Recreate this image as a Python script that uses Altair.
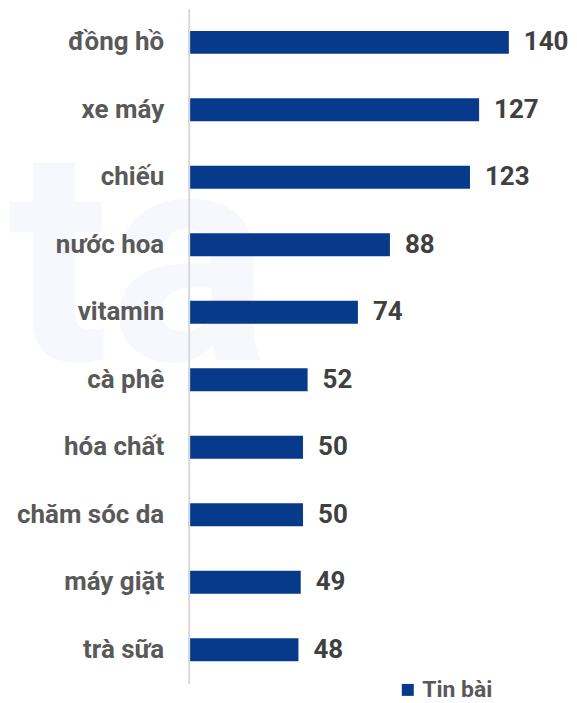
import altair as alt
import pandas as pd

categories = ["đồng hồ", "xe máy", "chiếu", "nước hoa", "vitamin", "cà phê",
              "hóa chất", "chăm sóc da", "máy giặt", "trà sữa"]
values = [140, 127, 123, 88, 74, 52, 50, 50, 49, 48]
series = "Tin bài"

df = pd.DataFrame({"category": categories, "value": values, "series": [series] * len(categories)})

W, H = 370, 676
FONT = "Roboto"
BAR = "#073A8A"

base = alt.Chart(df).encode(
    y=alt.Y("category:N", sort=categories, title=None,
            scale=alt.Scale(paddingInner=0.66, paddingOuter=0.33),
            axis=alt.Axis(labelFont=FONT, labelFontSize=26, labelFontWeight="bold",
                          labelColor="#595959", labelPadding=25, ticks=False,
                          domainColor="#D9D9D9", domainWidth=2, zindex=1)),
    x=alt.X("value:Q", title=None, scale=alt.Scale(domain=[0, 161.5], nice=False),
            axis=None),
)

watermark = alt.Chart(pd.DataFrame({"t": ["ta"]})).mark_text(
    font=FONT, fontSize=300, fontWeight="bold", color="#F6F8FD",
    align="left", baseline="alphabetic"
).encode(text="t:N", x=alt.value(-181), y=alt.value(352))

bars = base.mark_bar(size=23).encode(
    color=alt.Color("series:N", scale=alt.Scale(range=[BAR]), title=None,
                    legend=alt.Legend(orient="none", legendX=208, legendY=671,
                                      symbolType="square", symbolSize=144,
                                      labelFont=FONT, labelFontSize=23,
                                      labelFontWeight="bold", labelColor="#595959",
                                      padding=0, labelOffset=3))
)

labels = base.mark_text(align="left", baseline="middle", dx=15, font=FONT,
                        fontSize=26, fontWeight="bold", color="#404040").encode(
    text="value:Q"
)

chart = (watermark + bars + labels).properties(
    width=W, height=H, padding=0
).configure_view(stroke=None)

chart.save("out.html", embed_options={"renderer": "svg", "actions": False})
